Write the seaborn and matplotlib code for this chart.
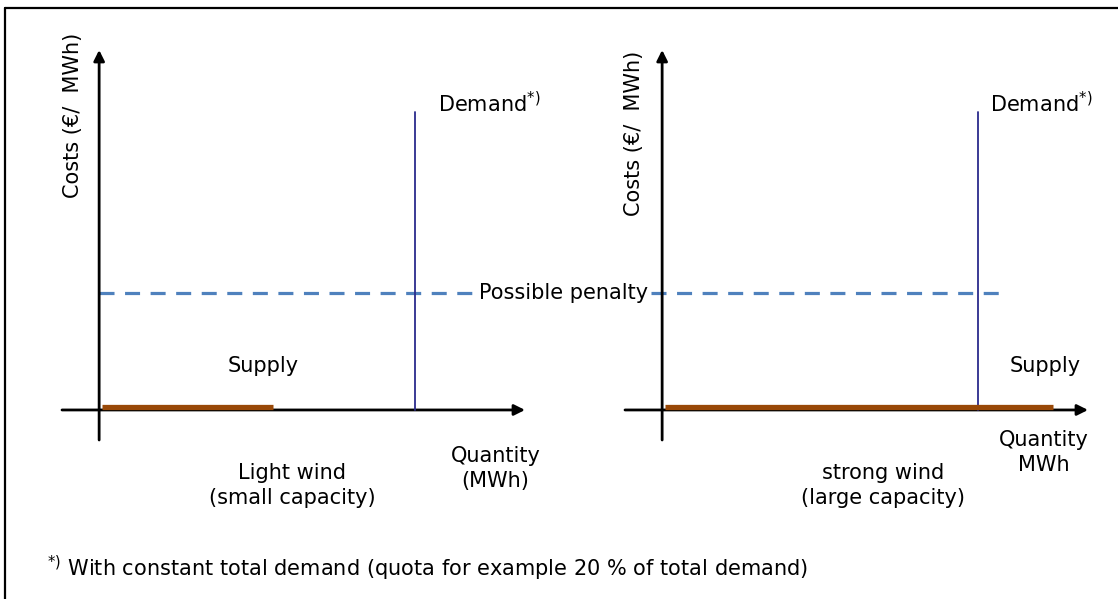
import matplotlib
matplotlib.use("Agg")
import matplotlib.pyplot as plt
from matplotlib.lines import Line2D
import seaborn as sns
import pandas as pd

# ---- data (schematic units) ----
panels = ["light", "strong"]
supply_capacity = [44, 99]          # quantity supplied by wind
supply_cost = [0.7, 0.7]            # near-zero marginal cost
demand_quantity = [80, 80]          # constant total demand (quota)
demand_top = [76.4, 76.4]
penalty_level = 30
wind_labels = ["Light wind\n(small capacity)", "strong wind\n(large capacity)"]
quantity_labels = ["Quantity\n(MWh)", "Quantity\nMWh"]
cost_label = "Costs (€/  MWh)"
footnote = "With constant total demand (quota for example 20 % of total demand)"

sns.set_theme(style="white")
plt.rcParams["font.family"] = ["DejaVu Sans"]
plt.rcParams["mathtext.fontset"] = "dejavusans"
plt.rcParams["text.color"] = "black"

FS = 15
fig = plt.figure(figsize=(11.18, 5.99), dpi=100)
fig.patch.set_facecolor("white")

W, H = 1118, 599
def ax_rect(x0, x1, ytop, ybot):
    return [x0 / W, (H - ybot) / H, (x1 - x0) / W, (ybot - ytop) / H]

axL = fig.add_axes(ax_rect(62, 525, 50, 440))
axR = fig.add_axes(ax_rect(625, 1088, 50, 440))
axes = [axL, axR]

XLIM = (-9.4, 107.8)
YLIM = (-7.7, 92.3)

supply_color = "#984807"
demand_color = "#2B2B8C"
penalty_color = "#4F81BD"

for i, ax in enumerate(axes):
    ax.set_xlim(*XLIM)
    ax.set_ylim(*YLIM)
    ax.axis("off")
    # axes arrows
    ax.annotate("", xy=(XLIM[1], 0), xytext=(XLIM[0], 0),
                arrowprops=dict(arrowstyle="-|>", lw=2.0, color="black",
                                mutation_scale=16, shrinkA=0, shrinkB=0), zorder=2)
    ax.annotate("", xy=(0, YLIM[1]), xytext=(0, YLIM[0]),
                arrowprops=dict(arrowstyle="-|>", lw=2.0, color="black",
                                mutation_scale=16, shrinkA=0, shrinkB=0), zorder=2)
    # demand line
    dd = pd.DataFrame({"q": [demand_quantity[i], demand_quantity[i]],
                       "c": [0, demand_top[i]]})
    sns.lineplot(data=dd, x="q", y="c", ax=ax, color=demand_color, lw=1.3,
                 sort=False, estimator=None, zorder=3)
    # supply line
    sd = pd.DataFrame({"q": [0.6, supply_capacity[i]],
                       "c": [supply_cost[i], supply_cost[i]]})
    sns.lineplot(data=sd, x="q", y="c", ax=ax, color=supply_color, lw=3.8,
                 sort=False, estimator=None, zorder=4,
                 solid_capstyle="butt")
    ax.set_xlabel("")
    ax.set_ylabel("")

# penalty dashed lines
pl = pd.DataFrame({"q": [0, 118], "c": [penalty_level, penalty_level]})
sns.lineplot(data=pl, x="q", y="c", ax=axL, color=penalty_color, lw=2.3,
             sort=False, estimator=None, zorder=1)
axL.lines[-1].set_dashes([4.7, 3.3])
axL.lines[-1].set_clip_on(False)
pr = pd.DataFrame({"q": [-2.8, 85.8], "c": [penalty_level, penalty_level]})
sns.lineplot(data=pr, x="q", y="c", ax=axR, color=penalty_color, lw=2.3,
             sort=False, estimator=None, zorder=1)
axR.lines[-1].set_dashes([4.7, 3.3])
axR.lines[-1].set_clip_on(False)

fig.text(564 / W, 1 - 293 / H, "Possible penalty", fontsize=FS, ha="center",
         va="center", color="black",
         bbox=dict(facecolor="white", edgecolor="none", pad=0.3), zorder=10)

# texts - left
axL.text(85.8, 78.5, "Demand$^{*)}$", fontsize=FS, ha="left", va="center")
axL.text(41.5, 11.3, "Supply", fontsize=FS, ha="center", va="center")
axL.text(48.9, -19.3, wind_labels[0], fontsize=FS, ha="center", va="center",
         linespacing=1.3)
axL.text(100.3, -15.0, quantity_labels[0], fontsize=FS, ha="center", va="center",
         linespacing=1.3)
axL.text(-6.6, 75.6, cost_label, fontsize=FS, ha="center", va="center",
         rotation=90)

# texts - right
axR.text(83.0, 78.5, "Demand$^{*)}$", fontsize=FS, ha="left", va="center")
axR.text(97.0, 11.3, "Supply", fontsize=FS, ha="center", va="center")
axR.text(55.9, -19.3, wind_labels[1], fontsize=FS, ha="center", va="center",
         linespacing=1.3)
axR.text(96.5, -11.0, quantity_labels[1], fontsize=FS, ha="center", va="center",
         linespacing=1.3)
axR.text(-7.2, 70.8, cost_label, fontsize=FS, ha="center", va="center",
         rotation=90)

# footnote
fig.text(47 / W, 1 - 568 / H, "$^{*)}$ " + footnote, fontsize=FS,
         ha="left", va="center")

# outer frame (top and left edges)
fig.add_artist(Line2D([5 / W, 1.0], [1 - 8 / H, 1 - 8 / H], color="black",
                      lw=1.6, transform=fig.transFigure))
fig.add_artist(Line2D([5 / W, 5 / W], [1 - 8 / H, 0], color="black",
                      lw=1.6, transform=fig.transFigure))

fig.savefig("out.png", dpi=100, facecolor="white")
